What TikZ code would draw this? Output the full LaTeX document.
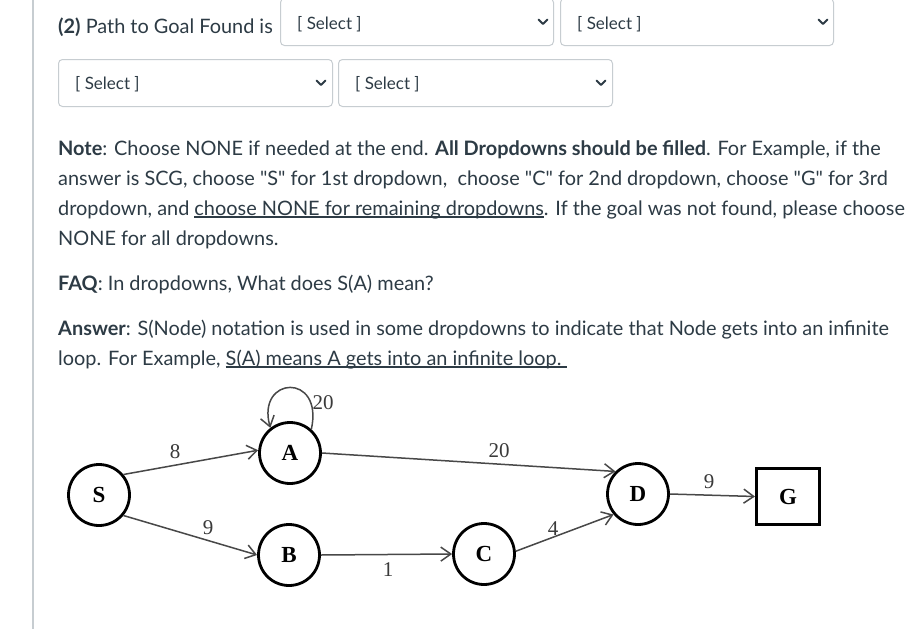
\documentclass[tikz,border=0pt]{standalone}
\usepackage{fontspec}
\usetikzlibrary{arrows.meta}
\setmainfont{Liberation Serif}
\newfontfamily\lato{Lato}
\definecolor{txt}{HTML}{2D3B45}
\definecolor{brd}{HTML}{C7CDD1}
\definecolor{edgec}{HTML}{484848}
\definecolor{labc}{HTML}{3A3A3A}
\newcommand\myul[1]{\setbox0\hbox{#1}\rlap{\color{txt}\rule[-2.6pt]{\wd0}{1.3pt}}\box0}
\begin{document}
\begin{tikzpicture}[x=1pt,y=-1pt,
  para/.style={anchor=base west, inner sep=0pt, text=txt, font=\lato\fontsize{19.9}{22}\selectfont},
  ddbox/.style={draw=brd, line width=1pt, rounded corners=4pt, fill=white, anchor=north west, minimum height=47pt},
  seltext/.style={anchor=base west, inner sep=0pt, text=txt, font=\lato\fontsize{17}{20}\selectfont},
  chev/.style={draw=txt, line width=1.8pt, line cap=round, line join=round},
  gnode/.style={circle, draw=black, line width=2.8pt, minimum size=61pt, inner sep=0pt, font=\fontsize{23}{26}\selectfont\bfseries},
  gbox/.style={rectangle, draw=black, line width=3pt, minimum width=63pt, minimum height=56pt, inner sep=0pt, font=\fontsize{23}{26}\selectfont\bfseries},
  gedge/.style={draw=edgec, line width=1.5pt, -{Straight Barb[length=10pt,width=14pt]}},
  elab/.style={text=labc, font=\fontsize{21}{24}\selectfont, inner sep=0pt}]
\useasboundingbox[fill=white] (0,0) rectangle (915,629);

% left rule
\coordinate (vt) at (33,0);
\coordinate (vb) at (33,629);
\draw[brd, line width=1.5pt] (vt) -- (vb);

% title
\node[para] (t0) at (58,33) {\textbf{(2)} Path to Goal Found is};

% dropdowns
\node[ddbox, minimum width=273pt] (d1) at (280,-2) {};
\node[ddbox, minimum width=273pt] (d2) at (560,-2) {};
\node[ddbox, minimum width=274pt] (d3) at (58,59) {};
\node[ddbox, minimum width=274pt] (d4) at (338,59) {};
\node[seltext] (s1) at (297,29) {[ Select ]};
\node[seltext] (s2) at (577,29) {[ Select ]};
\node[seltext] (s3) at (75,89) {[ Select ]};
\node[seltext] (s4) at (355,89) {[ Select ]};
\coordinate (c1) at (543,22);
\coordinate (c2) at (823,22);
\coordinate (c3) at (321,83);
\coordinate (c4) at (601,83);
\foreach \c in {c1,c2,c3,c4}{\draw[chev] (\c) +(-4.5,-2.5) -- +(0,2) -- +(4.5,-2.5);}

% paragraph
\node[para] (p1) at (58,155) {\textbf{Note}: Choose NONE if needed at the end. \textbf{All Dropdowns should be filled}. For Example, if the};
\node[para] (p2) at (58,185) {answer is SCG, choose "S" for 1st dropdown,~ choose "C" for 2nd dropdown, choose "G" for 3rd};
\node[para] (p3) at (58,215) {dropdown, and \myul{choose NONE for remaining dropdowns}. If the goal was not found, please choose};
\node[para] (p4) at (58,245) {NONE for all dropdowns.};
\node[para] (p5) at (58,290) {\textbf{FAQ}: In dropdowns, What does S(A) mean?};
\node[para] (p6) at (58,335) {\textbf{Answer}: S(Node) notation is used in some dropdowns to indicate that Node gets into an infinite};
\node[para] (p7) at (58,365) {loop. For Example, \myul{S(A) means A gets into an infinite loop.\ }};

% graph
\node[gnode] (S) at (99,495) {S};
\node[gnode] (A) at (290,453) {A};
\node[gnode] (B) at (289,555) {B};
\node[gnode] (C) at (484,554) {C};
\node[gnode] (D) at (638,494) {D};
\node[gbox] (G) at (788,496.5) {G};

\draw[gedge] (S.40) -- (A.175);
\draw[gedge] (S.-40) -- (B.180);
\draw[gedge] (A.east) -- (D.135);
\draw[gedge] (B.east) -- (C.west);
\draw[gedge] (C.5) -- (D.220);
\draw[gedge] (D.east) -- (G.west);
\coordinate (l1) at (324,372);
\coordinate (l2) at (256,376);
\draw[gedge] (A.48) .. controls (l1) and (l2) .. (A.128);

\node[elab] (w1) at (175,452) {8};
\node[elab] (w2) at (208,528) {9};
\node[elab] (w3) at (323,403) {20};
\node[elab] (w4) at (499,451) {20};
\node[elab] (w5) at (388,570) {1};
\node[elab] (w6) at (553,529) {4};
\node[elab] (w7) at (709,482) {9};
\end{tikzpicture}
\end{document}
